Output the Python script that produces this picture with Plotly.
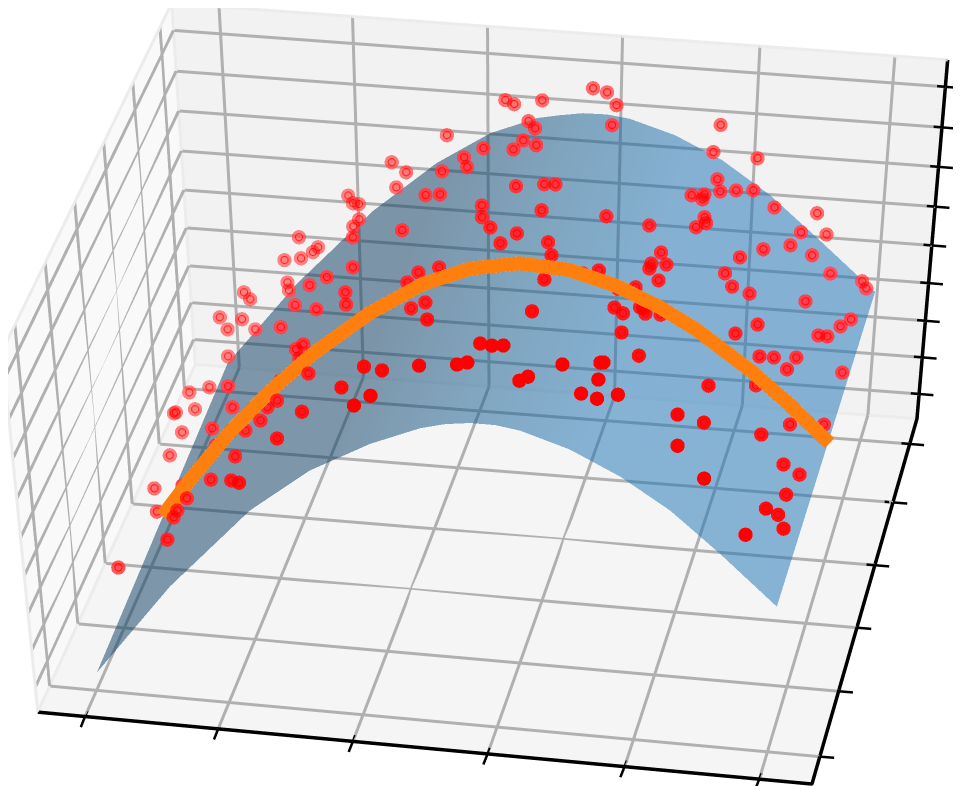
"""3D scatter of noisy samples around a fitted surface, with the mid-line drawn on top."""

import plotly.graph_objects as go

# surface: one column per entry, front and back edge of the sheet
surf_y = [0.05, 0.95]
surf_x_front = [0.066, 0.166, 0.275, 0.356, 0.437, 0.504, 0.537, 0.570, 0.604, 0.637, 0.702, 0.768, 0.833, 0.897, 0.971]
surf_x_back = [0.072, 0.166, 0.270, 0.357, 0.429, 0.492, 0.522, 0.553, 0.585, 0.615, 0.674, 0.736, 0.798, 0.856, 0.934]
surf_z_front = [0.079, 0.335, 0.565, 0.690, 0.778, 0.833, 0.850, 0.859, 0.859, 0.849, 0.808, 0.744, 0.661, 0.553, 0.418]
surf_z_back = [0.056, 0.291, 0.512, 0.661, 0.756, 0.809, 0.822, 0.833, 0.835, 0.828, 0.793, 0.734, 0.648, 0.545, 0.402]

# mid-line
line_x = [0.086, 0.123, 0.178, 0.233, 0.291, 0.368, 0.440, 0.503, 0.569, 0.635, 0.697, 0.753, 0.802, 0.874, 0.922, 0.974]
line_y = [0.417] * 16
line_z = [0.157, 0.262, 0.405, 0.529, 0.642, 0.769, 0.862, 0.916, 0.942, 0.935, 0.901, 0.853, 0.797, 0.693, 0.611, 0.512]

# samples
pts_x = [
    0.234, 0.240, 0.251, 0.264, 0.258, 0.265, 0.167, 0.198, 0.190, 0.170, 0.147, 0.292, 0.250, 0.220, 0.157, 0.169,
    0.092, 0.100, 0.196, 0.245, 0.299, 0.310, 0.059, 0.092, 0.069, 0.126, 0.185, 0.239, 0.252, 0.254, 0.093, 0.291,
    0.239, 0.390, 0.362, 0.419, 0.395, 0.042, 0.071, 0.120, 0.146, 0.031, 0.029, 0.058, 0.304, 0.245, 0.228, 0.053,
    0.121, 0.224, 0.196, 0.272, 0.047, 0.196, 0.044, 0.104, 0.167, 0.213, 0.232, 0.128, 0.063, 0.114, 0.113, 0.120,
    0.038, 0.146, 0.446, 0.461, 0.499, 0.563, 0.583, 0.602, 0.492, 0.506, 0.606, 0.369, 0.438, 0.495, 0.516, 0.485,
    0.414, 0.293, 0.320, 0.383, 0.423, 0.311, 0.374, 0.400, 0.511, 0.549, 0.564, 0.471, 0.477, 0.497, 0.559, 0.643,
    0.354, 0.538, 0.520, 0.584, 0.595, 0.440, 0.408, 0.395, 0.660, 0.643, 0.598, 0.688, 0.704, 0.438, 0.417, 0.456,
    0.598, 0.691, 0.701, 0.720, 0.731, 0.735, 0.781, 0.750, 0.731, 0.743, 0.743, 0.756, 0.770, 0.788, 0.818, 0.863,
    0.875, 0.851, 0.846, 0.871, 0.751, 0.756, 0.747, 0.696, 0.823, 0.803, 0.719, 0.714, 0.714, 0.730, 0.728, 0.794,
    0.806, 0.824, 0.890, 0.923, 0.930, 0.884, 0.928, 0.924, 0.910, 0.918, 0.850, 0.834, 0.723, 0.728, 0.742, 0.737,
    0.857, 0.870, 0.889, 0.885, 0.938, 0.822, 0.865, 0.801, 0.829, 0.911, 0.939, 0.893, 0.809, 0.923, 0.939, 0.848,
    0.932, 0.921, 0.932, 0.940, 0.910, 0.709, 0.545, 0.564, 0.579, 0.701, 0.703, 0.661, 0.538, 0.524, 0.470, 0.419,
    0.705, 0.626, 0.617, 0.694, 0.728, 0.711,
]
pts_y = [
    0.970, 0.970, 0.954, 0.888, 0.877, 0.837, 0.970, 0.940, 0.945, 0.965, 0.970, 0.696, 0.732, 0.765, 0.935, 0.884,
    0.970, 0.970, 0.786, 0.681, 0.606, 0.553, 0.970, 0.952, 0.970, 0.868, 0.742, 0.567, 0.552, 0.513, 0.847, 0.385,
    0.458, 0.259, 0.246, 0.151, 0.160, 0.838, 0.827, 0.706, 0.600, 0.800, 0.797, 0.793, 0.269, 0.402, 0.421, 0.727,
    0.587, 0.393, 0.431, 0.259, 0.671, 0.358, 0.577, 0.463, 0.338, 0.242, 0.198, 0.370, 0.494, 0.374, 0.354, 0.272,
    0.352, 0.482, 0.970, 0.953, 0.950, 0.970, 0.962, 0.927, 0.890, 0.862, 0.873, 0.961, 0.855, 0.836, 0.816, 0.819,
    0.845, 0.970, 0.929, 0.851, 0.819, 0.905, 0.782, 0.748, 0.699, 0.696, 0.696, 0.668, 0.636, 0.590, 0.624, 0.632,
    0.720, 0.560, 0.539, 0.536, 0.501, 0.528, 0.549, 0.539, 0.487, 0.465, 0.433, 0.471, 0.508, 0.439, 0.449, 0.358,
    0.345, 0.428, 0.434, 0.454, 0.970, 0.896, 0.958, 0.842, 0.763, 0.788, 0.774, 0.829, 0.865, 0.889, 0.876, 0.934,
    0.932, 0.883, 0.835, 0.852, 0.745, 0.729, 0.706, 0.651, 0.769, 0.712, 0.609, 0.567, 0.553, 0.587, 0.542, 0.655,
    0.640, 0.664, 0.875, 0.920, 0.911, 0.734, 0.813, 0.762, 0.683, 0.702, 0.581, 0.512, 0.462, 0.448, 0.478, 0.351,
    0.553, 0.583, 0.637, 0.593, 0.695, 0.383, 0.483, 0.277, 0.310, 0.472, 0.558, 0.369, 0.231, 0.361, 0.386, 0.206,
    0.328, 0.246, 0.271, 0.264, 0.160, 0.381, 0.260, 0.242, 0.243, 0.274, 0.285, 0.221, 0.205, 0.207, 0.225, 0.233,
    0.237, 0.165, 0.152, 0.175, 0.249, 0.194,
]
pts_z = [
    0.530, 0.510, 0.525, 0.550, 0.540, 0.550, 0.403, 0.410, 0.390, 0.350, 0.336, 0.610, 0.540, 0.480, 0.310, 0.340,
    0.237, 0.219, 0.400, 0.500, 0.630, 0.650, 0.162, 0.180, 0.130, 0.240, 0.380, 0.500, 0.530, 0.530, 0.180, 0.620,
    0.520, 0.780, 0.730, 0.810, 0.770, 0.080, 0.110, 0.240, 0.290, 0.060, 0.060, 0.080, 0.630, 0.520, 0.480, 0.080,
    0.240, 0.470, 0.400, 0.560, 0.070, 0.400, 0.070, 0.200, 0.350, 0.450, 0.490, 0.260, 0.090, 0.220, 0.220, 0.240,
    0.070, 0.300, 0.832, 0.840, 0.860, 0.885, 0.885, 0.887, 0.860, 0.870, 0.885, 0.730, 0.810, 0.860, 0.870, 0.850,
    0.790, 0.633, 0.650, 0.740, 0.790, 0.630, 0.740, 0.780, 0.870, 0.885, 0.887, 0.840, 0.840, 0.860, 0.885, 0.875,
    0.700, 0.880, 0.870, 0.887, 0.887, 0.800, 0.760, 0.740, 0.870, 0.880, 0.887, 0.840, 0.810, 0.790, 0.760, 0.825,
    0.885, 0.830, 0.810, 0.810, 0.812, 0.810, 0.740, 0.790, 0.820, 0.800, 0.800, 0.770, 0.740, 0.720, 0.690, 0.625,
    0.570, 0.620, 0.630, 0.590, 0.780, 0.780, 0.790, 0.840, 0.680, 0.710, 0.810, 0.820, 0.820, 0.800, 0.800, 0.720,
    0.700, 0.660, 0.520, 0.460, 0.450, 0.580, 0.460, 0.490, 0.540, 0.520, 0.660, 0.700, 0.800, 0.800, 0.770, 0.780,
    0.600, 0.570, 0.520, 0.530, 0.430, 0.680, 0.590, 0.700, 0.650, 0.500, 0.420, 0.570, 0.660, 0.500, 0.450, 0.600,
    0.450, 0.490, 0.450, 0.420, 0.500, 0.810, 0.870, 0.885, 0.887, 0.830, 0.820, 0.870, 0.870, 0.860, 0.830, 0.800,
    0.820, 0.885, 0.885, 0.840, 0.770, 0.810,
]

# tick positions along each edge of the box
x_ticks = [0.061, 0.233, 0.407, 0.581, 0.758, 0.932]
y_ticks = [0.075, 0.254, 0.428, 0.599, 0.771, 0.931]
z_ticks = [0.069, 0.171, 0.273, 0.378, 0.483, 0.591, 0.702, 0.812, 0.925]

# box corners (slightly tapered towards the back)
A = (-0.004, 0.0, 0.006)
B = (1.021, 0.0, -0.017)
C = (0.975, 1.0, 0.008)
D = (0.019, 1.0, -0.006)
E = (0.001, 1.0, 0.994)
F = (1.029, 1.0, 1.014)
G = (-0.038, 0.0, 1.003)

VIEW = (0.183, -0.842, 0.507)
UP = (-0.0805, 0.501, 0.862)
CENTER = (0.0152, -0.0129, -0.027)
EYE_DIST = 1.5
GRID = "#b0b0b0"


def lerp(p, q, t):
    return tuple(a + (b - a) * t for a, b in zip(p, q))


def polyline_trace(segments, color, width):
    xs, ys, zs = [], [], []
    for seg in segments:
        for p in seg:
            xs.append(p[0]); ys.append(p[1]); zs.append(p[2])
        xs.append(None); ys.append(None); zs.append(None)
    return go.Scatter3d(x=xs, y=ys, z=zs, mode="lines", line=dict(color=color, width=width),
                        hoverinfo="skip", showlegend=False)


def pane(corners, color):
    # pushed a little away from the viewer so the grid stays in front
    pts = [(p[0] - 0.002, p[1] + 0.009, p[2] - 0.009) for p in corners]
    return go.Mesh3d(x=[p[0] for p in pts], y=[p[1] for p in pts], z=[p[2] for p in pts],
                     i=[0, 0], j=[1, 2], k=[2, 3], color=color, flatshading=True,
                     lighting=dict(ambient=1, diffuse=0, specular=0, fresnel=0), hoverinfo="skip")


grid = []
for t in x_ticks:
    grid.append([lerp(A, B, t), lerp(D, C, t), lerp(E, F, t)])
for t in y_ticks:
    grid.append([lerp(B, C, t), lerp(A, D, t), lerp(G, E, t)])
for t in z_ticks:
    grid.append([lerp(C, F, t), lerp(D, E, t), lerp(A, G, t)])

ticks = []
for t in x_ticks:
    p = lerp(A, B, t)
    ticks.append([(p[0], p[1] + 0.017, p[2]), (p[0], p[1] - 0.03, p[2])])
for t in y_ticks:
    p = lerp(B, C, t)
    ticks.append([(p[0] - 0.011, p[1], p[2]), (p[0] + 0.019, p[1], p[2])])
for t in z_ticks:
    p = lerp(C, F, t)
    ticks.append([(p[0] - 0.011, p[1], p[2]), (p[0] + 0.019, p[1], p[2])])

# depth shading: the further back the fainter
alpha = []
for x, y, z in zip(pts_x, pts_y, pts_z):
    near = 0.183 * x - 0.77 * y + 0.275 * z
    alpha.append(min(1.0, max(0.35, 0.35 + (near + 0.56) * 0.9)))

fig = go.Figure()
fig.add_trace(pane([A, B, C, D], "#f5f5f5"))
fig.add_trace(pane([D, C, F, E], "#f2f2f2"))
fig.add_trace(pane([A, D, E, G], "#f9f9f9"))
fig.add_trace(polyline_trace([[G, E, F], [A, D, C], [D, E], [A, G]], "#ececec", 6))
fig.add_trace(polyline_trace(grid, GRID, 6))
fig.add_trace(polyline_trace([[A, B, C, F]], "black", 7))
fig.add_trace(polyline_trace(ticks, "black", 5))

n_cols = len(surf_x_front)
col = [0.5 * (a + b) for a, b in zip(surf_x_front, surf_x_back)]
fig.add_trace(go.Surface(
    x=[surf_x_front, surf_x_back], y=[[surf_y[0]] * n_cols, [surf_y[1]] * n_cols], z=[surf_z_front, surf_z_back],
    surfacecolor=[col, col], cmin=0, cmax=1,
    colorscale=[[0, "#05375f"], [0.38, "#05375f"], [0.55, "#0d5688"], [0.72, "#176fb3"], [1, "#176fb3"]],
    showscale=False, opacity=0.5, hoverinfo="skip",
    lighting=dict(ambient=1, diffuse=0, specular=0, roughness=1, fresnel=0),
))

fig.add_trace(go.Scatter3d(
    x=pts_x, y=pts_y, z=pts_z, mode="markers", hoverinfo="skip",
    marker=dict(size=8.3, color=[f"rgba(255,0,0,{0.4 + 0.6 * a ** 2:.2f})" for a in alpha], line=dict(width=0)),
))
fig.add_trace(go.Scatter3d(
    x=pts_x, y=pts_y, z=pts_z, mode="markers", hoverinfo="skip",
    marker=dict(size=4.5, symbol="circle-open", color=[f"rgba(255,0,0,{a:.2f})" for a in alpha],
                line=dict(width=5, color="rgba(255,0,0,0.6)")),
))
fig.add_trace(go.Scatter3d(
    x=line_x, y=line_y, z=line_z, mode="lines", hoverinfo="skip",
    line=dict(color="#ff7f0e", width=28),
))

axis_off = dict(visible=False, showgrid=False, showline=False, zeroline=False, showbackground=False,
                showticklabels=False, showspikes=False, title="")
fig.update_layout(
    width=961, height=786, margin=dict(l=0, r=0, t=0, b=0), paper_bgcolor="white",
    showlegend=False,
    scene=dict(
        domain=dict(x=[0, 1], y=[0, 1]),
        xaxis=dict(axis_off, range=[-0.1, 1.1]),
        yaxis=dict(axis_off, range=[-0.1, 1.1]),
        zaxis=dict(axis_off, range=[-0.1, 1.1]),
        aspectmode="manual", aspectratio=dict(x=2.353, y=2.153, z=1.276),
        camera=dict(
            eye=dict(x=VIEW[0] * EYE_DIST + CENTER[0], y=VIEW[1] * EYE_DIST + CENTER[1], z=VIEW[2] * EYE_DIST + CENTER[2]),
            center=dict(x=CENTER[0], y=CENTER[1], z=CENTER[2]),
            up=dict(x=UP[0], y=UP[1], z=UP[2]),
            projection=dict(type="orthographic"),
        ),
    ),
)
fig.write_html("out.html")
